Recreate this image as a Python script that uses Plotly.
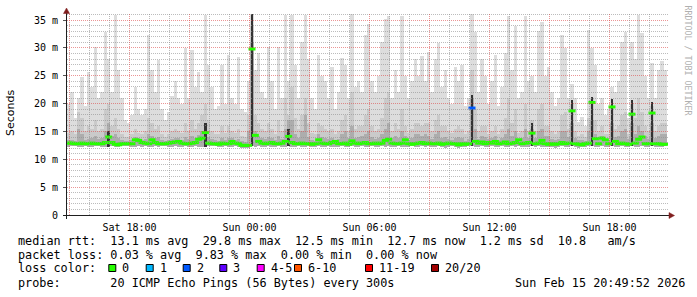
import math
import numpy as np
import pandas as pd
import plotly.graph_objects as go

# ---------------- data ----------------
first_bin = "2026-02-14 14:57:30"   # centre of first 10-minute bin
bin_minutes = 10
x_start = "2026-02-14 14:52:30"
x_end = "2026-02-15 20:55:30"

# lightest smoke: top of the ping spread (ms)
smoke_max = [
    20, 22, 17.5, 21, 24.8, 19.5, 25.7, 23, 30.2, 21, 22, 32.8, 28, 22, 35.9, 26, 21, 17,
    16.5, 18, 22.9, 19, 18, 19, 32.3, 26, 22, 27.8, 19, 17, 18.5, 21.4, 24, 21, 20, 30,
    21, 29.6, 23, 25.7, 22, 35.9, 27, 23, 19, 19.5, 27, 20, 28.7, 21, 20, 28.4, 19, 18.5,
    24, 36, 26, 29, 22, 21, 30.2, 24, 19, 30.2, 21, 35.9, 24, 35.9, 27, 21, 31, 35.9,
    28, 21, 19, 28.7, 25, 24, 21, 26.6, 19, 22, 28.1, 27, 21, 36, 23, 24, 22, 32.3,
    34.2, 24, 22, 25, 31, 35.2, 35.8, 21, 26, 22, 35.8, 25, 21, 24, 28, 25, 28.5, 24,
    29.3, 22, 28, 30.8, 23, 26, 21, 20, 26.6, 24, 27, 19.5, 21, 36.1, 32.9, 22, 28, 25,
    20, 24, 28.7, 19.5, 23, 29, 35.8, 26, 34, 21, 22, 35.8, 24, 25, 22, 33, 34.6, 25,
    26.6, 22, 19.5, 21, 32.3, 30, 21, 23.6, 21, 16.7, 17.6, 16, 33.2, 29.9, 27, 20, 21, 18,
    19, 23, 22, 24, 31, 32.8, 17.5, 31.1, 28, 35.9, 32.6, 25, 21, 27.3, 21, 26, 27.7, 26,
]
# second smoke layer top
smoke_upper = [
    14.8, 15, 14.5, 18.5, 17.5, 15, 16, 15.5, 17, 15, 15.5, 19, 20, 16, 17.5, 15.5, 14.5, 14,
    14, 14.5, 15.5, 14.8, 14.5, 15, 17.5, 16.5, 15.5, 16, 14.5, 14, 14.5, 15, 15.5, 15, 14.8, 16.5,
    15, 17, 15.5, 16.5, 18, 20, 17, 15, 14.5, 14.5, 16, 14.8, 16, 15, 14.8, 15.5, 14.2, 14,
    18, 34, 18, 16.5, 15.5, 15, 16.5, 15.5, 14.5, 17, 15, 21, 18, 23, 17.5, 15.5, 18, 21,
    16.5, 14.8, 14.5, 16.5, 16, 15.5, 15, 15.5, 14.5, 15, 17, 18, 15, 22, 15.5, 16, 16, 18,
    19, 16, 15, 15.5, 17.5, 21, 22, 15, 16.5, 15.5, 19, 16, 14.8, 15.5, 16.5, 16.5, 16, 16.5,
    16.5, 15, 17, 18, 16, 16, 15, 14.8, 15.5, 16, 15.5, 14.5, 15, 26, 19, 15, 16, 16,
    14.5, 15, 16, 14.5, 15.5, 17.5, 21, 16.5, 19, 14.8, 15, 20, 15, 17, 15, 19, 20, 16,
    16, 15, 14.5, 15, 18, 18.5, 15.5, 20, 15, 14.2, 14.5, 14, 17.5, 21, 17, 15, 16, 14.5,
    14.5, 19.5, 15.5, 16, 18, 18.5, 14.5, 20, 17.5, 21, 18.5, 16, 15, 19.5, 15, 16, 16.5, 16.5,
]
# inner smoke layer top
smoke_inner = [
    13.4, 13.5, 13.3, 15.5, 14.5, 13.5, 13.7, 13.8, 14.2, 13.6, 13.8, 15, 16.5, 14.2, 14.5, 13.8, 13.5, 13.3,
    13.3, 13.5, 14, 13.8, 13.5, 13.7, 14.5, 14.2, 13.8, 14, 13.5, 13.3, 13.4, 13.6, 13.9, 13.8, 13.5, 14,
    13.6, 14.2, 13.9, 14.4, 15, 16.5, 14, 13.7, 13.5, 13.3, 13.8, 13.5, 13.9, 13.8, 13.5, 13.7, 13.2, 13.1,
    15, 31, 15, 14.2, 13.8, 13.6, 14, 13.8, 13.5, 14.2, 13.6, 15.5, 17, 17, 14.5, 13.8, 15, 18,
    14, 13.5, 13.3, 14.5, 14, 13.8, 13.6, 13.8, 13.4, 13.7, 14.5, 15, 13.8, 16, 13.8, 14, 14.2, 14.5,
    15, 14, 13.7, 13.9, 14.5, 15.5, 16.5, 13.8, 14.2, 13.8, 15, 14.2, 13.5, 13.8, 14.5, 14.5, 14.2, 14.5,
    14.2, 13.6, 14.5, 15, 13.9, 14, 13.7, 13.5, 13.8, 14, 13.8, 13.3, 13.6, 21, 15.5, 13.7, 14.2, 14,
    13.6, 13.8, 14.2, 13.5, 13.9, 14.5, 15.5, 14.2, 15, 13.7, 13.8, 15.5, 13.8, 15.5, 13.8, 15, 15.5, 14.2,
    14.2, 13.7, 13.4, 13.7, 15, 15, 14, 16.5, 13.9, 13.4, 13.5, 13.3, 15, 17, 14.5, 14, 14.2, 13.6,
    13.5, 16.5, 14, 14.2, 15, 15.5, 13.6, 16.5, 14.5, 16, 15, 14.2, 13.7, 16.5, 13.8, 14.2, 14.5, 14.5,
]
# bottom of the smoke (fastest ping)
smoke_min = [
    12.2, 12.3, 12.3, 12.2, 12.2, 12.3, 12.2, 12.2, 12.3, 12.3, 12.2, 12.2, 12.2, 12.3, 12.2, 12.2, 12.3, 12.3,
    12.3, 12.2, 12.2, 12.3, 12.2, 12.3, 12.2, 12.2, 12.3, 12.2, 12.3, 12.3, 12.2, 12.2, 12.3, 12.2, 12.2, 12.3,
    12.2, 12.2, 12.3, 12.2, 12.2, 12.2, 12.3, 12.3, 12.3, 12.2, 12.2, 12.3, 12.2, 12.2, 12.3, 12.2, 12.1, 12.0,
    12.1, 12.4, 12.2, 12.3, 12.2, 12.2, 12.3, 12.2, 12.2, 12.3, 12.2, 12.2, 12.3, 12.2, 12.2, 12.3, 12.2, 12.2,
    12.3, 12.2, 12.2, 12.3, 12.2, 12.2, 12.3, 12.2, 12.2, 12.2, 12.3, 12.2, 12.2, 12.3, 12.2, 12.2, 12.3, 12.2,
    12.2, 12.3, 12.2, 12.2, 12.3, 12.2, 12.3, 12.2, 12.2, 12.3, 12.2, 12.2, 12.2, 12.3, 12.2, 12.2, 12.3, 12.2,
    12.3, 12.2, 12.2, 12.3, 12.2, 12.1, 12.2, 12.3, 12.2, 12.1, 12.2, 12.2, 12.3, 12.3, 12.2, 12.2, 12.3, 12.2,
    12.2, 12.3, 12.2, 12.2, 12.3, 12.2, 12.2, 12.3, 12.2, 12.3, 12.2, 12.2, 12.2, 12.3, 12.2, 12.3, 12.2, 12.2,
    12.2, 12.2, 12.1, 12.2, 12.3, 12.2, 12.2, 12.3, 12.2, 12.1, 12.2, 12.2, 12.3, 12.3, 12.2, 12.2, 12.3, 12.2,
    12.2, 12.3, 12.2, 12.2, 12.3, 12.2, 12.2, 12.3, 12.2, 12.2, 12.3, 12.2, 12.2, 12.3, 12.2, 12.2, 12.2, 12.3,
]
# median rtt (ms)
median_ms = [
    12.9, 12.9, 12.8, 12.8, 12.9, 12.8, 12.8, 12.9, 12.8, 12.8, 12.8, 13.0, 14.0, 13.0, 12.7, 12.6, 12.8, 12.8,
    12.8, 12.8, 13.5, 13.4, 13.0, 12.9, 12.8, 13.5, 13.0, 12.8, 12.8, 12.8, 12.9, 13.0, 13.1, 13.2, 12.9, 12.8,
    12.8, 12.9, 13.0, 13.6, 13.8, 14.8, 12.9, 12.8, 12.8, 12.7, 12.9, 12.8, 12.8, 13.2, 12.9, 12.8, 12.5, 12.5,
    12.5, 29.8, 14.3, 13.2, 12.9, 12.8, 12.9, 13.0, 12.8, 12.8, 12.9, 13.2, 14.1, 13.0, 12.8, 12.8, 12.9, 12.8,
    12.8, 12.7, 12.8, 13.5, 12.9, 12.8, 12.8, 13.0, 13.2, 12.8, 12.8, 12.9, 12.7, 13.3, 12.9, 12.8, 12.9, 13.0,
    12.8, 12.8, 12.9, 12.8, 12.9, 13.4, 13.6, 12.9, 12.8, 12.8, 12.9, 13.5, 12.8, 12.7, 12.8, 12.9, 13.0, 12.8,
    12.9, 12.8, 12.8, 12.9, 12.7, 12.8, 12.9, 12.8, 12.8, 12.6, 12.8, 12.7, 12.8, 19.2, 13.2, 12.9, 13.1, 12.8,
    13.0, 12.9, 13.2, 12.8, 12.9, 13.1, 12.8, 12.9, 13.0, 13.5, 12.8, 12.9, 13.0, 14.7, 12.8, 12.9, 13.4, 12.8,
    12.7, 12.8, 12.7, 12.8, 13.0, 12.8, 12.9, 18.7, 12.8, 12.7, 12.6, 12.8, 12.9, 20.2, 13.7, 12.8, 13.8, 13.5,
    12.8, 19.4, 13.2, 12.8, 12.9, 12.8, 12.7, 18.1, 12.9, 13.6, 14.0, 12.8, 12.8, 18.3, 12.8, 12.8, 12.7, 12.7,
]
# bins with lost pings (bin index, pings lost out of 20)
loss_bins = [121]
loss_count = [2]
# bins where the central pings spread far (dark smoke core) and its top (ms)
core_bins = [12, 41, 55, 66, 121, 139, 151, 157, 163, 169, 175]
core_top = [15.0, 16.5, 36.0, 15.5, 21.5, 16.5, 20.6, 21.2, 20.9, 20.6, 20.3]

x_tickvals = ["2026-02-14 15:00", "2026-02-14 18:00", "2026-02-14 21:00", "2026-02-15 00:00",
              "2026-02-15 03:00", "2026-02-15 06:00", "2026-02-15 09:00", "2026-02-15 12:00",
              "2026-02-15 15:00", "2026-02-15 18:00"]
x_ticktext = ["", "Sat 18:00", "", "Sun 00:00", "", "Sun 06:00", "", "Sun 12:00", "", "Sun 18:00"]
y_tickvals = [0, 5, 10, 15, 20, 25, 30, 35]
y_ticktext = ["0", "5 m", "10 m", "15 m", "20 m", "25 m", "30 m", "35 m"]

loss_labels = ["0", "1", "2", "3", "4-5", "6-10", "11-19", "20/20"]
loss_limits = [0, 1, 2, 3, 5, 10, 19, 20]
loss_colors = ["#26ff00", "#00b8ff", "#0059ff", "#5e00ff", "#ff00ff", "#ff5500", "#ff0000", "#a00000"]

legend_rows = [
    "median rtt:  13.1 ms avg  29.8 ms max  12.5 ms min  12.7 ms now  1.2 ms sd  10.8   am/s",
    "packet loss: 0.03 % avg  9.83 % max  0.00 % min  0.00 % now",
    "loss color:",
    "probe:       20 ICMP Echo Pings (56 Bytes) every 300s",
]
stamp = "Sun Feb 15 20:49:52 2026"
y_title = "Seconds"
watermark = "RRDTOOL / TOBI OETIKER"

# ---------------- geometry / style ----------------
W, H = 697, 297
PL, PT, PW, PH = 67, 14, 601, 201
YMAX = 36.08
MONO = "DejaVu Sans Mono"
MINOR = "rgba(143,143,143,0.6)"
MAJOR = "rgba(222,79,79,0.6)"
AXIS = "#1f1f1f"
ARROW = "#801f1f"


def fx(p):
    return (p - PL) / PW


def fy(p):
    return (PT + PH - p) / PH


n = len(smoke_max)
times = pd.date_range(first_bin, periods=n, freq=f"{bin_minutes}min")
bin_ms = bin_minutes * 60 * 1000
mn = np.array(smoke_min)

fig = go.Figure()


def smoke_layer(top, color):
    top = np.array(top, dtype=float)
    fig.add_trace(go.Bar(x=times, y=top - mn, base=mn, width=bin_ms,
                         marker=dict(color=color, line=dict(width=0)),
                         hoverinfo="skip", showlegend=False))


smoke_layer(smoke_max, "#dddddd")
smoke_layer(smoke_upper, "#cacaca")
smoke_layer(smoke_inner, "#adadad")

core_x = [times[i] for i in core_bins]
core_base = np.array([smoke_min[i] for i in core_bins])
fig.add_trace(go.Bar(x=core_x, y=np.array(core_top) - core_base, base=core_base,
                     width=bin_ms * 0.8, marker=dict(color="#333333", line=dict(width=0)),
                     hoverinfo="skip", showlegend=False))

lost_map = dict(zip(loss_bins, loss_count))
med_colors = []
for i in range(n):
    c = lost_map.get(i, 0)
    k = next(j for j, lim in enumerate(loss_limits) if c <= lim)
    med_colors.append(loss_colors[k])

fig.add_trace(go.Scatter(x=times, y=median_ms, mode="markers",
                         marker=dict(symbol="line-ew", size=5, color=med_colors,
                                     line=dict(width=3, color=med_colors)),
                         hoverinfo="skip", showlegend=False))

shapes = []
for v in range(1, 37):
    row = math.floor(PT + PH - v * PH / YMAX) + 0.5
    if row < PT:
        continue
    shapes.append(dict(type="line", xref="paper", yref="paper", x0=0, x1=1,
                       y0=fy(row), y1=fy(row), layer="above",
                       line=dict(color=MAJOR if v % 5 == 0 else MINOR, width=1, dash="1px,1px")))
for h in pd.date_range("2026-02-14 15:00", "2026-02-15 20:00", freq="1h"):
    shapes.append(dict(type="line", xref="x", yref="paper", x0=h, x1=h, y0=0, y1=1, layer="above",
                       line=dict(color=MAJOR if h.hour % 3 == 0 else MINOR, width=1, dash="1px,1px")))

# axes with arrows
shapes.append(dict(type="line", xref="paper", yref="paper", x0=fx(63), x1=fx(670),
                   y0=fy(215.5), y1=fy(215.5), layer="above", line=dict(color=AXIS, width=1)))
shapes.append(dict(type="line", xref="paper", yref="paper", x0=fx(66.5), x1=fx(66.5),
                   y0=fy(219), y1=fy(12), layer="above", line=dict(color=AXIS, width=1)))
shapes.append(dict(type="path", xref="paper", yref="paper", layer="above",
                   path=f"M {fx(669)},{fy(212.5)} L {fx(674.5)},{fy(215.5)} L {fx(669)},{fy(218.5)} Z",
                   fillcolor=ARROW, line=dict(color=ARROW, width=0.5)))
shapes.append(dict(type="path", xref="paper", yref="paper", layer="above",
                   path=f"M {fx(63.5)},{fy(13.5)} L {fx(66.5)},{fy(8)} L {fx(69.5)},{fy(13.5)} Z",
                   fillcolor=ARROW, line=dict(color=ARROW, width=0.5)))

# legend colour boxes
box_px = [108.3, 145.7, 182.7, 219.3, 256.7, 294.0, 365.0, 431.0]
for bx, col in zip(box_px, loss_colors):
    shapes.append(dict(type="rect", xref="paper", yref="paper",
                       x0=fx(bx + 0.5), x1=fx(bx + 7.5), y0=fy(271.5), y1=fy(264.5),
                       fillcolor=col, line=dict(color="#000000", width=1)))

NB = "\u00a0"
ann = []
row_y = [240.7, 255.0, 268.3, 282.7]
for txt, yy in zip(legend_rows, row_y):
    ann.append(dict(text=txt.replace(" ", NB), x=fx(16), y=fy(yy), xref="paper", yref="paper",
                    xanchor="left", yanchor="middle", showarrow=False,
                    font=dict(family=MONO, size=11.8, color="#000000")))
for bx, lab in zip(box_px, loss_labels):
    ann.append(dict(text=lab, x=fx(bx + 12.0), y=fy(268.3), xref="paper", yref="paper",
                    xanchor="left", yanchor="middle", showarrow=False,
                    font=dict(family=MONO, size=11.8, color="#000000")))
ann.append(dict(text=stamp.replace(" ", NB), x=fx(513), y=fy(282.7), xref="paper", yref="paper",
                xanchor="left", yanchor="middle", showarrow=False,
                font=dict(family=MONO, size=11.8, color="#000000")))
ann.append(dict(text=y_title, x=fx(10.5), y=fy(113.5), xref="paper", yref="paper",
                xanchor="center", yanchor="middle", textangle=-90, showarrow=False,
                font=dict(family="DejaVu Sans", size=11, color="#000000")))
ann.append(dict(text=watermark.replace(" ", NB), x=fx(687.5), y=fy(60), xref="paper", yref="paper",
                xanchor="center", yanchor="middle", textangle=90, showarrow=False,
                font=dict(family=MONO, size=8.3, color="#b0b0b0")))

fig.update_layout(
    width=W, height=H, autosize=False,
    margin=dict(l=PL, r=W - PL - PW, t=PT, b=H - PT - PH, pad=0),
    paper_bgcolor="#ffffff", plot_bgcolor="#ffffff",
    barmode="overlay", bargap=0,
    showlegend=False,
    shapes=shapes, annotations=ann,
    xaxis=dict(type="date", range=[x_start, x_end], showgrid=False, zeroline=False, showline=False,
               tickmode="array", tickvals=x_tickvals, ticktext=x_ticktext,
               ticks="", ticklabelstandoff=5,
               tickfont=dict(family=MONO, size=10, color="#000000"), fixedrange=True),
    yaxis=dict(range=[0, YMAX], showgrid=False, zeroline=False, showline=False,
               tickmode="array", tickvals=y_tickvals, ticktext=y_ticktext,
               ticks="outside", ticklen=3, tickcolor="#555555", ticklabelstandoff=3,
               tickfont=dict(family=MONO, size=10, color="#000000"), fixedrange=True),
)

fig.write_html("out.html")
